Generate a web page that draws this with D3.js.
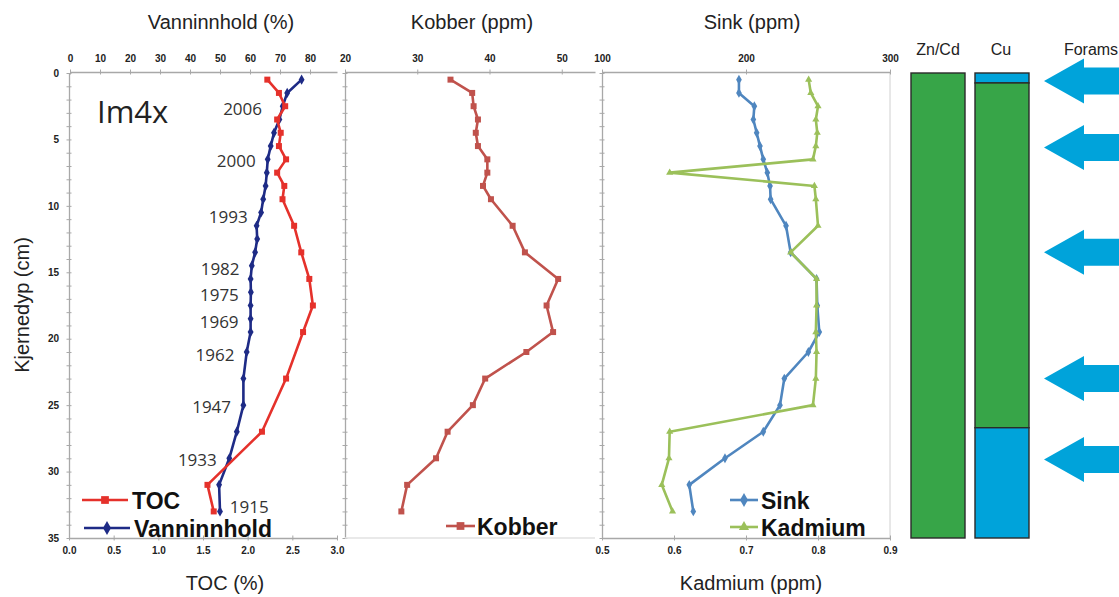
<!DOCTYPE html>
<html>
<head>
<meta charset="utf-8">
<script src="https://cdn.jsdelivr.net/npm/d3@7"></script>
<style>
  html, body { margin: 0; padding: 0; background: #fff; }
  svg { display: block; }
  .tick text { font-family: "Liberation Sans", Arial, sans-serif; font-weight: bold; font-size: 10px; fill: #222; }
  .domain { stroke: #a8a8a8; stroke-width: 1.3; }
  .tick line { stroke: #a8a8a8; }
</style>
</head>
<body>
<svg id="chart" width="1119" height="597"></svg>
<script>
// Core Im4x: depth profiles (cm)
const depthsWater = [0.5,1.5,2.5,3.5,4.5,5.5,6.5,7.5,8.5,9.5,10.5,11.5,12.5,13.5,14.5,15.5,16.5,17.5,18.5,19.5,21,23,25,27,29,31,33];
const water = [77.2,72.4,70.9,69.8,68.0,66.9,65.9,65.6,65.2,64.4,63.7,62.2,62.4,61.7,60.6,60.2,60.3,60.2,60.2,60.2,58.9,57.8,57.8,55.6,53.1,49.7,50.0];

const depthsToc = [0.5,1.5,2.5,3.5,4.5,5.5,6.5,7.5,8.5,9.5,11.5,13.5,15.5,17.5,19.5,23,27,31,33];
const toc = [2.22,2.35,2.42,2.33,2.37,2.35,2.43,2.33,2.41,2.39,2.52,2.60,2.69,2.73,2.62,2.43,2.16,1.55,1.62];

const depthsMetal = [0.5,1.5,2.5,3.5,4.5,5.5,6.5,7.5,8.5,9.5,11.5,13.5,15.5,17.5,19.5,21,23,25,27,29,31,33];
const copper = [34.6,37.6,37.8,38.4,38.1,38.4,39.7,39.7,39.1,40.2,43.2,44.9,49.5,47.9,48.8,45.1,39.4,37.7,34.2,32.6,28.6,27.8];
const zinc = [195.1,195.1,205.8,205.1,207.4,209.7,212.0,214.8,216.7,217.1,227.8,231.0,249.0,249.5,250.9,243.3,226.6,223.6,212.0,185.4,160.6,163.4];
const cadmium = [0.787,0.790,0.800,0.797,0.799,0.797,0.793,0.594,0.795,0.797,0.800,0.762,0.798,0.798,0.797,0.798,0.797,0.793,0.594,0.593,0.583,0.598];

// Dating horizons
const years = ["2006","2000","1993","1982","1975","1969","1962","1947","1933","1915"];
const yearDepths = [2.7,6.6,10.8,14.7,16.7,18.7,21.2,25.1,29.1,32.6];

// Zone columns: depth intervals and class
const znCdFrom = [0];
const znCdTo = [35];
const znCdZone = ["green"];
const cuFrom = [0, 0.75, 26.7];
const cuTo = [0.75, 26.7, 35];
const cuZone = ["blue", "green", "blue"];
const foramDepths = [0.6, 5.6, 13.5, 23.0, 29.1];

// Axis ticks
const depthTicks = d3.range(0, 36, 1);
const waterTicks = [0,10,20,30,40,50,60,70,80];
const tocTicks = [0,0.5,1,1.5,2,2.5,3];
const copperTicks = [20,30,40,50];
const zincTicks = [100,200,300];
const cadmiumTicks = [0.5,0.6,0.7,0.8,0.9];

const svg = d3.select("#chart");
const SANS = '"Liberation Sans", Arial, sans-serif';
const HUMAN = '"Open Sans", "Noto Sans", sans-serif';

const y = d3.scaleLinear().domain([0, 35]).range([73, 538]);
const plotTop = 72, plotBottom = 538;

const xWater = d3.scaleLinear().domain([0, 89]).range([70, 337]);
const xToc = d3.scaleLinear().domain([0, 3]).range([69, 337]);
const xCu = d3.scaleLinear().domain([20, 54.6]).range([345, 595]);
const xZn = d3.scaleLinear().domain([100, 300]).range([602, 890]);
const xCd = d3.scaleLinear().domain([0.5, 0.9]).range([602, 890]);

const colors = {
  toc: "#e5312b", water: "#1e2b86", copper: "#c0524c",
  zinc: "#4f86bf", cadmium: "#9bc05a",
  green: "#37a548", blue: "#00a3da"
};

function crossTicks(g, len) {
  g.selectAll(".tick line").attr("y1", -len).attr("y2", len);
}
function crossTicksV(g, len) {
  g.selectAll(".tick line").attr("x1", -len).attr("x2", len);
}

// Left depth axes
function depthAxis(x, labels) {
  const g = svg.append("g").attr("transform", `translate(${x},0)`)
    .call(d3.axisLeft(y).tickValues(depthTicks).tickSizeOuter(0)
      .tickFormat(d => labels && d % 5 === 0 ? d : ""));
  crossTicksV(g, 2.5);
  g.selectAll(".tick text").attr("x", -10);
  return g;
}
depthAxis(69, true);
depthAxis(345, false);
depthAxis(602, false);
svg.append("line").attr("x1", 890).attr("x2", 890).attr("y1", plotTop).attr("y2", plotBottom)
  .attr("stroke", "#d0d0d0").attr("stroke-width", 1);

// Top axes
function topAxis(scale, ticks, fmt) {
  const g = svg.append("g").attr("transform", `translate(0,${plotTop})`)
    .call(d3.axisTop(scale).tickValues(ticks).tickSizeOuter(0).tickFormat(fmt || (d => d)));
  crossTicks(g, 2.5);
  g.selectAll(".tick text").attr("y", -10);
  return g;
}
topAxis(xWater, waterTicks);
topAxis(xCu, copperTicks);
topAxis(xZn, zincTicks);

// Bottom axes
function bottomAxis(scale, ticks) {
  const g = svg.append("g").attr("transform", `translate(0,${plotBottom})`)
    .call(d3.axisBottom(scale).tickValues(ticks).tickSizeOuter(0).tickFormat(d3.format(".1f")));
  crossTicks(g, 2.5);
  g.selectAll(".tick text").attr("y", 9);
  return g;
}
bottomAxis(xToc, tocTicks);
bottomAxis(xCd, cadmiumTicks);
svg.append("line").attr("x1", 345).attr("x2", 595).attr("y1", plotBottom).attr("y2", plotBottom)
  .attr("stroke", "#e2e2e2").attr("stroke-width", 1.3);

// Axis titles
function label(x, yy, text, size, opts = {}) {
  return svg.append("text").attr("x", x).attr("y", yy).text(text)
    .attr("text-anchor", opts.anchor || "middle")
    .attr("dominant-baseline", "central")
    .attr("font-family", opts.family || SANS)
    .attr("font-size", size)
    .attr("font-weight", opts.weight || "normal")
    .attr("fill", opts.fill || "#222");
}
label(221, 22, "Vanninnhold (%)", 20);
label(472, 22, "Kobber (ppm)", 20);
label(752, 22, "Sink (ppm)", 20);
label(225, 583, "TOC (%)", 20);
label(751, 583, "Kadmium (ppm)", 20);
label(22, 305, "Kjernedyp (cm)", 20).attr("transform", "rotate(-90,22,305)");

// Profile series
function series(xs, vals, depths, color, symbol, size) {
  const pts = vals.map((v, i) => [xs(v), y(depths[i])]);
  svg.append("path").datum(pts)
    .attr("d", d3.line())
    .attr("fill", "none").attr("stroke", color).attr("stroke-width", 2.6)
    .attr("stroke-linejoin", "round");
  svg.append("g").selectAll("path").data(pts).join("path")
    .attr("transform", d => `translate(${d[0]},${d[1]})`)
    .attr("d", d3.symbol().type(symbol).size(size))
    .attr("fill", color);
}
series(xWater, water, depthsWater, colors.water, d3.symbolDiamond, 30);
series(xToc, toc, depthsToc, colors.toc, d3.symbolSquare, 36);
series(xCu, copper, depthsMetal, colors.copper, d3.symbolSquare, 36);
series(xZn, zinc, depthsMetal, colors.zinc, d3.symbolDiamond, 28);
series(xCd, cadmium, depthsMetal, colors.cadmium, d3.symbolTriangle, 22);

// Core name and year horizons
label(97, 111, "Im4x", 31, { anchor: "start", family: HUMAN, fill: "#222" });
const waterAt = d3.scaleLinear().domain(depthsWater).range(water);
years.forEach((yr, i) => {
  const cx = xWater(waterAt(yearDepths[i]));
  const last = i === years.length - 1;
  const gap = i === 0 ? 20 : 12;
  label(last ? cx + 10 : cx - gap, y(yearDepths[i]), yr, 17,
    { anchor: last ? "start" : "end", family: HUMAN, fill: "#333" });
});

// Legends
function legendItem(x1, x2, yy, color, symbol, size, text, tx) {
  svg.append("line").attr("x1", x1).attr("x2", x2).attr("y1", yy).attr("y2", yy)
    .attr("stroke", color).attr("stroke-width", 2.6);
  svg.append("path").attr("transform", `translate(${(x1 + x2) / 2},${yy})`)
    .attr("d", d3.symbol().type(symbol).size(size)).attr("fill", color);
  label(tx, yy + 1, text, 23, { anchor: "start", weight: "bold", fill: "#111" });
}
legendItem(82, 128, 500, colors.toc, d3.symbolSquare, 60, "TOC", 132);
legendItem(84, 130, 528, colors.water, d3.symbolDiamond, 55, "Vanninnhold", 134);
legendItem(446, 475, 526, colors.copper, d3.symbolSquare, 60, "Kobber", 477);
legendItem(730, 758, 500, colors.zinc, d3.symbolDiamond, 55, "Sink", 761);
legendItem(730, 758, 527, colors.cadmium, d3.symbolTriangle, 45, "Kadmium", 761);

// Zone columns
label(938, 49, "Zn/Cd", 16, { fill: "#222" });
label(1001, 49, "Cu", 16, { fill: "#222" });
label(1091, 49, "Forams", 16, { fill: "#222" });
function zoneColumn(x0, w, from, to, zone) {
  const g = svg.append("g");
  g.selectAll("rect").data(from).join("rect")
    .attr("x", x0).attr("width", w)
    .attr("y", (d, i) => y(d)).attr("height", (d, i) => y(to[i]) - y(d))
    .attr("fill", (d, i) => colors[zone[i]])
    .attr("stroke", "#2a2a2a").attr("stroke-width", 1.4);
}
zoneColumn(911, 54, znCdFrom, znCdTo, znCdZone);
zoneColumn(975, 54, cuFrom, cuTo, cuZone);

// Foraminifera arrows pointing at the sampled depths
const arrow = (cy) => {
  const tip = 1044, back = 1084, end = 1125;
  return `M${tip},${cy} L${back},${cy - 22.5} L${back},${cy - 13.5} L${end},${cy - 13.5} ` +
         `L${end},${cy + 13.5} L${back},${cy + 13.5} L${back},${cy + 22.5} Z`;
};
svg.append("g").selectAll("path").data(foramDepths).join("path")
  .attr("d", d => arrow(y(d))).attr("fill", colors.blue);
</script>
</body>
</html>
